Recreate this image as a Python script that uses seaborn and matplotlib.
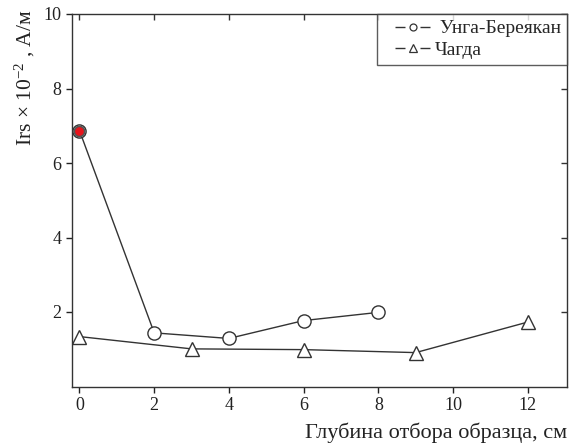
import matplotlib
matplotlib.use("Agg")
import matplotlib.pyplot as plt
from matplotlib.lines import Line2D
from matplotlib.legend_handler import HandlerLine2D
import seaborn as sns
import pandas as pd

sns.set_theme(style="ticks")
plt.rcParams['font.family'] = ['Liberation Serif', 'DejaVu Serif']
plt.rcParams['mathtext.fontset'] = 'custom'
plt.rcParams['mathtext.rm'] = 'Liberation Serif'
plt.rcParams['mathtext.it'] = 'Liberation Serif:italic'

# Data
depth_unga = [0, 2, 4, 6, 8]
irs_unga = [6.87, 1.44, 1.29, 1.77, 1.99]
depth_chagda = [0, 3, 6, 9, 12]
irs_chagda = [1.34, 1.01, 0.99, 0.91, 1.73]
label_unga = "Унга-Береякан"
label_chagda = "Чагда"
x_ticks = [0, 2, 4, 6, 8, 10, 12]
y_ticks = [2, 4, 6, 8, 10]

df_u = pd.DataFrame({"x": depth_unga, "y": irs_unga})
df_c = pd.DataFrame({"x": depth_chagda, "y": irs_chagda})

fig = plt.figure(figsize=(5.69, 4.45), dpi=100)
ax = fig.add_axes([72/569, 1-386.5/445, (567-72)/569, (386.5-14)/445])

lc = '#333333'
sns.lineplot(data=df_u, x="x", y="y", ax=ax, color=lc, lw=1.0, marker='o',
             markersize=9.5, markerfacecolor='white', markeredgecolor=lc,
             markeredgewidth=1.0, legend=False)
sns.lineplot(data=df_c, x="x", y="y", ax=ax, color=lc, lw=1.0, marker='^',
             markersize=9.5, markerfacecolor='white', markeredgecolor=lc,
             markeredgewidth=1.0, legend=False)
# highlighted first point
sns.scatterplot(x=depth_unga[:1], y=irs_unga[:1], ax=ax, color='#e8141c',
                edgecolor='#555555', linewidth=1.2, s=55, zorder=5, legend=False)

ax.set_xlim(-0.2, 13.05)
ax.set_ylim(0, 10)
ax.set_xticks(x_ticks)
ax.set_yticks(y_ticks)
for s in ax.spines.values():
    s.set_color(lc)
    s.set_linewidth(1.0)
ax.tick_params(axis='both', which='both', labelsize=13, colors='#222222',
               length=4, width=1.0, direction='out')
sec_x = ax.secondary_xaxis('top')
sec_x.set_xticks(x_ticks)
sec_x.tick_params(direction='in', length=4, width=1.0, labeltop=False, colors=lc)
sec_x.spines['top'].set_visible(False)
sec_y = ax.secondary_yaxis('right')
sec_y.set_yticks(y_ticks)
sec_y.tick_params(direction='in', length=4, width=1.0, labelright=False, colors=lc)
sec_y.spines['right'].set_visible(False)
ax.tick_params(top=False, right=False)

ax.set_xlabel("Глубина отбора образца, см", fontsize=16, loc='right', labelpad=6, color='#222222')
ax.set_ylabel("Irs × 10$^{-2}$ , А/м", fontsize=15.5, loc='top', color='#222222')
ax.yaxis.set_label_coords(-0.071, 1.013)

dash = (0, (7.2, 10.8))
h_u = Line2D([], [], color=lc, lw=1.0, linestyle=dash, marker='o', markersize=5,
             markerfacecolor='white', markeredgecolor=lc, markeredgewidth=0.9)
h_c = Line2D([], [], color=lc, lw=1.0, linestyle=dash, marker='^', markersize=5.5,
             markerfacecolor='white', markeredgecolor=lc, markeredgewidth=0.9)
hm = {h_u: HandlerLine2D(xpad=0.62), h_c: HandlerLine2D(xpad=0.62)}
leg = ax.legend([h_u, h_c], [" " + label_unga, label_chagda], handler_map=hm,
                loc='upper right', borderaxespad=0, fontsize=14, frameon=True,
                fancybox=False, edgecolor=lc, handlelength=2.42,
                borderpad=0.3, labelspacing=0.2, handletextpad=0.26)
leg.get_frame().set_linewidth(1.0)

fig.savefig("out.png", dpi=100)
